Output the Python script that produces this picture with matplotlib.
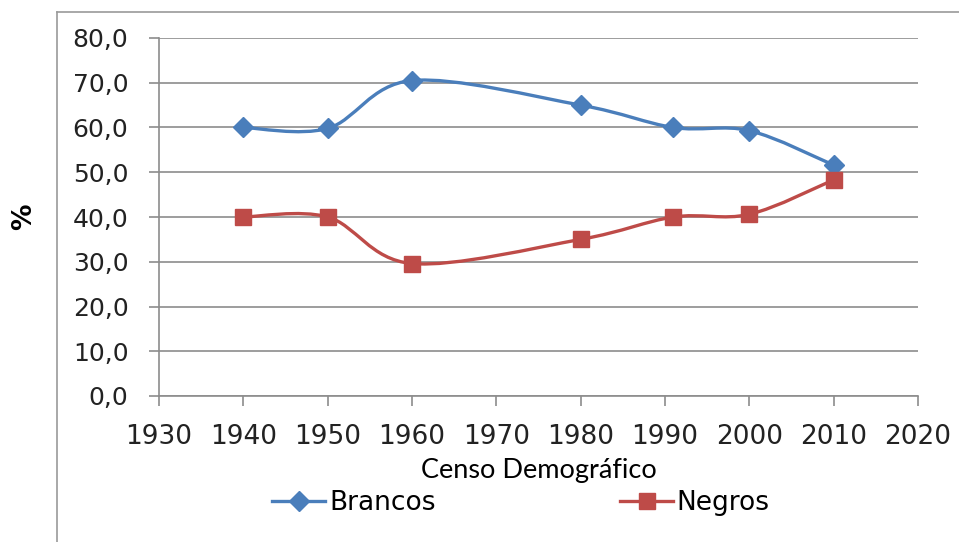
import matplotlib.pyplot as plt
import numpy as np
from matplotlib.path import Path
from matplotlib.patches import PathPatch
from matplotlib.lines import Line2D

# census years and share of population (%)
anos = [1940, 1950, 1960, 1980, 1991, 2000, 2010]
brancos = [60.0, 59.8, 70.5, 65.0, 60.0, 59.3, 51.6]
negros = [40.0, 40.0, 29.6, 35.0, 40.0, 40.6, 48.3]

xticks = list(range(1930, 2021, 10))
yticks = [0, 10, 20, 30, 40, 50, 60, 70, 80]

AZUL = '#4A7EBB'
VERMELHO = '#BE4B48'
GRADE = '#8C8C8C'


def curva_suave(x, y):
    # spreadsheet-style smoothed line: cubic bezier segments through the points
    pts = np.column_stack([x, y]).astype(float)
    n = len(pts)
    verts = [pts[0]]
    codes = [Path.MOVETO]
    for i in range(n - 1):
        p0 = pts[i - 1] if i > 0 else pts[i]
        p1 = pts[i]
        p2 = pts[i + 1]
        p3 = pts[i + 2] if i + 2 < n else pts[i + 1]
        c1 = p1 + (p2 - p0) / 6.0
        c2 = p2 - (p3 - p1) / 6.0
        verts += [c1, c2, p2]
        codes += [Path.CURVE4] * 3
    return Path(verts, codes)


fig = plt.figure(figsize=(9.59, 5.42), dpi=100)
ax = fig.add_axes([159 / 959, 1 - 396 / 542, (918 - 159) / 959, (396 - 38) / 542])

for serie, cor, marca, tam in [(brancos, AZUL, 'D', 10), (negros, VERMELHO, 's', 12)]:
    ax.add_patch(PathPatch(curva_suave(anos, serie), facecolor='none',
                           edgecolor=cor, lw=2.4, zorder=3))
    ax.plot(anos, serie, linestyle='none', marker=marca, markersize=tam,
            color=cor, zorder=4)

ax.set_xlim(1930, 2020)
ax.set_ylim(0, 80)
ax.set_xticks(xticks)
ax.set_yticks(yticks)
ax.set_yticklabels([f'{v:.1f}'.replace('.', ',') for v in yticks])
ax.set_xticklabels([str(v) for v in xticks])
ax.yaxis.grid(True, color=GRADE, lw=1.2)
ax.set_axisbelow(True)

for s in ['top', 'right']:
    ax.spines[s].set_visible(False)
for s in ['left', 'bottom']:
    ax.spines[s].set_color(GRADE)
    ax.spines[s].set_linewidth(1.2)

ax.tick_params(axis='y', direction='out', length=7, width=1.2, color=GRADE,
               labelsize=18, labelcolor='#222222', pad=15)
ax.tick_params(axis='x', direction='out', length=7, width=1.2, color=GRADE,
               labelsize=19, labelcolor='#222222', pad=13)

ax.set_xlabel('Censo Demográfico', fontsize=19.5, family='Lato', labelpad=6)

fig.text(24 / 959, 1 - 217 / 542, '%', rotation=90, fontsize=19,
         fontweight='bold', ha='center', va='center')

# outer chart frame
fig.add_artist(Line2D([57 / 959, 57 / 959], [0, 1 - 12 / 542], color='#9A9A9A',
                      lw=1.2, transform=fig.transFigure))
fig.add_artist(Line2D([57 / 959, 1], [1 - 12 / 542, 1 - 12 / 542], color='#9A9A9A',
                      lw=1.2, transform=fig.transFigure))

handles = [Line2D([], [], color=AZUL, lw=2.4, marker='D', markersize=10),
           Line2D([], [], color=VERMELHO, lw=2.4, marker='s', markersize=12)]
fig.legend(handles, ['Brancos', 'Negros'], loc='center',
           bbox_to_anchor=(521 / 959, 1 - 503 / 542), ncol=2, frameon=False,
           fontsize=19, columnspacing=7.0, handlelength=2.0, handletextpad=0.15)

fig.savefig('out.png', dpi=100)
